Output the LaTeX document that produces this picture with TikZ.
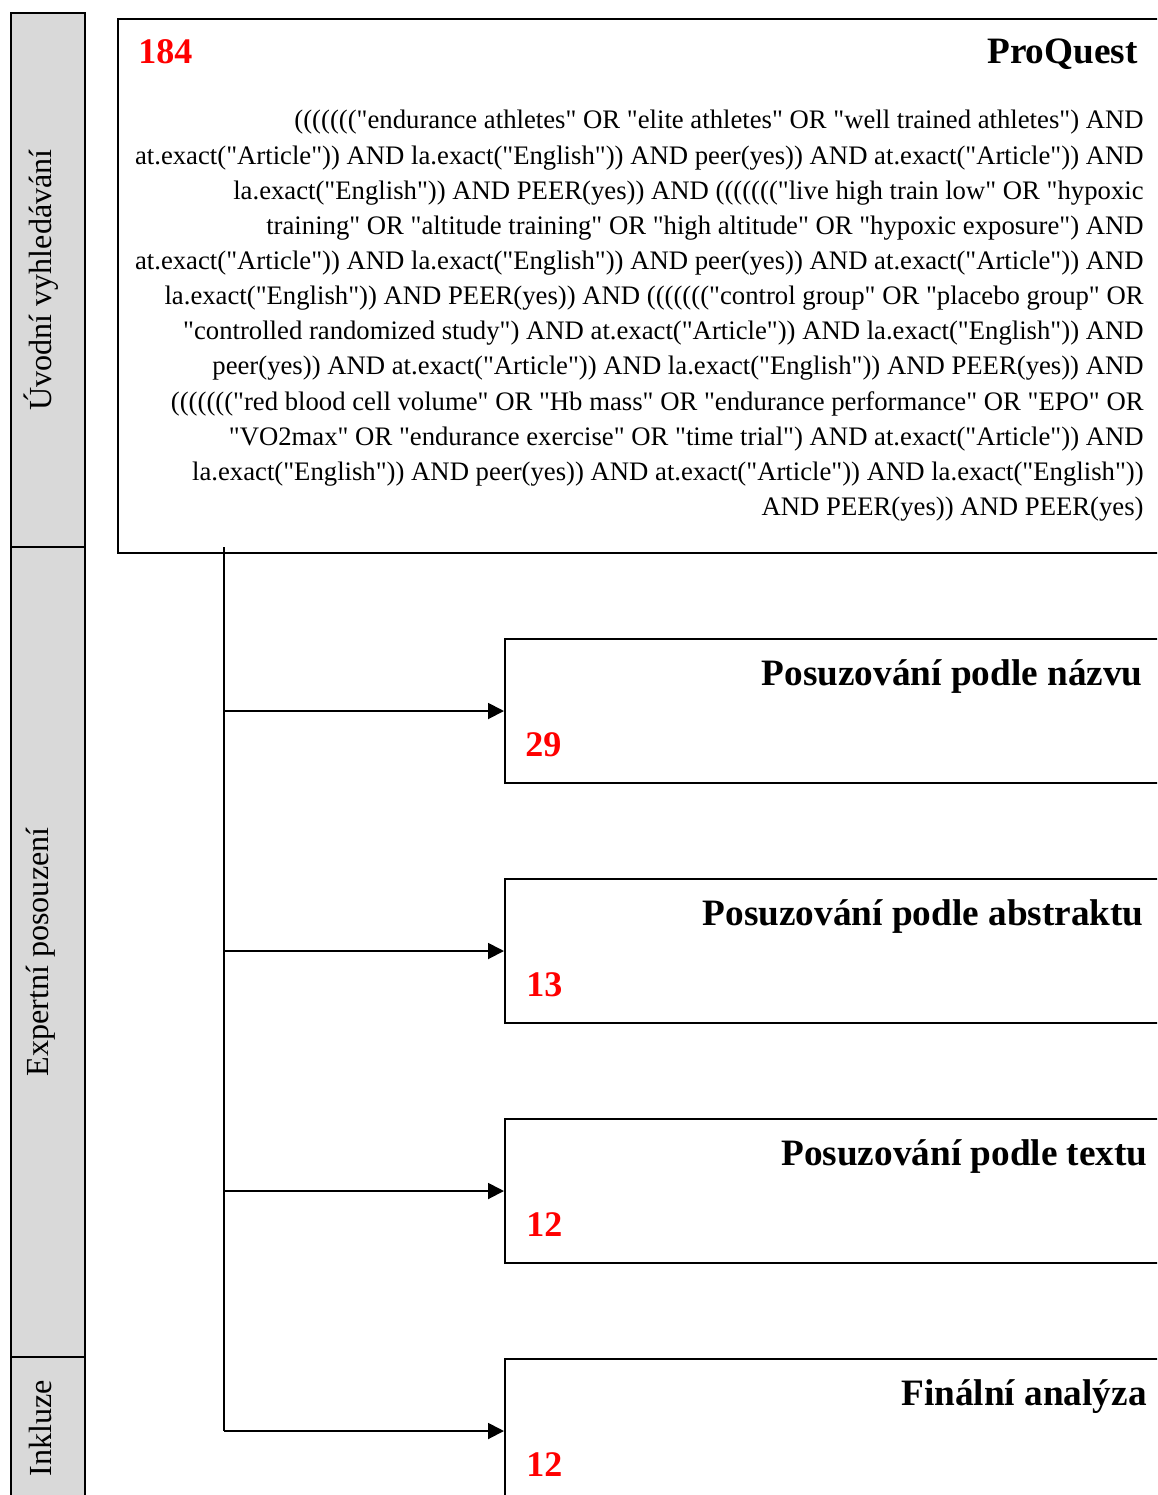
\documentclass[tikz,border=0pt]{standalone}
\usepackage{fontspec}
\setmainfont{Liberation Serif}[Ligatures=TeXOff]
\usetikzlibrary{arrows.meta}

\definecolor{bargray}{RGB}{217,217,217}
\tikzset{
  phasebar/.style={draw, line width=1.1pt, fill=bargray, rotate=90, inner sep=0pt,
    minimum height=1.48cm},
  phaselabel/.style={rotate=90, inner sep=0pt, font=\fontsize{18.3}{22}\selectfont},
  stagebox/.style={draw, line width=1.1pt, inner sep=0pt, anchor=west,
    minimum width=13.5cm, minimum height=2.88cm},
  stagetitle/.style={anchor=base east, inner sep=0pt, font=\bfseries\fontsize{21.2}{25}\selectfont},
  countlabel/.style={anchor=base west, inner sep=0pt, text=red, font=\bfseries\fontsize{20.5}{24}\selectfont},
  flowarrow/.style={line width=1.1pt, -{Triangle[length=0.32cm, width=0.32cm]}}
}

\begin{document}
\begin{tikzpicture}[x=0.02cm, y=-0.02cm]
  \useasboundingbox (0,0) rectangle (1157,1495);
  \clip (0,0) rectangle (1157,1495);

  % phases on the left
  \node[phasebar, minimum width=10.68cm] (uvod) at (48,280) {};
  \node[phasebar, minimum width=16.2cm] (expert) at (48,952) {};
  \node[phasebar, minimum width=2.84cm] (inkluze) at (48,1428) {};
  \node[phaselabel] (luvod) at ([xshift=-0.14cm]uvod.center) {Úvodní vyhledávání};
  \node[phaselabel] (lexpert) at ([xshift=-0.14cm]expert.center) {Expertní posouzení};
  \node[phaselabel] (linkluze) at ([xshift=-0.14cm]inkluze.center) {Inkluze};

  % search box
  \node[draw, line width=1.1pt, inner sep=0pt, anchor=north west,
    minimum width=21.06cm, minimum height=10.68cm] (proquest) at (117,18) {};
  \node[countlabel] (n184) at (138,63) {184};
  \node[stagetitle] (pqname) at (1138,63) {ProQuest};
  \node[anchor=north east, inner sep=0pt, align=right, font=\fontsize{15.2}{20}\selectfont] (query) at (1144,110) {%
    ((((((("endurance athletes" OR "elite athletes" OR "well trained athletes") AND\\
    at.exact("Article")) AND la.exact("English")) AND peer(yes)) AND at.exact("Article")) AND\\
    la.exact("English")) AND PEER(yes)) AND ((((((("live high train low" OR "hypoxic\\
    training" OR "altitude training" OR "high altitude" OR "hypoxic exposure") AND\\
    at.exact("Article")) AND la.exact("English")) AND peer(yes)) AND at.exact("Article")) AND\\
    la.exact("English")) AND PEER(yes)) AND ((((((("control group" OR "placebo group" OR\\
    "controlled randomized study") AND at.exact("Article")) AND la.exact("English")) AND\\
    peer(yes)) AND at.exact("Article")) AND la.exact("English")) AND PEER(yes)) AND\\
    ((((((("red blood cell volume" OR "Hb mass" OR "endurance performance" OR "EPO" OR\\
    "VO2max" OR "endurance exercise" OR "time trial") AND at.exact("Article")) AND\\
    la.exact("English")) AND peer(yes)) AND at.exact("Article")) AND la.exact("English"))\\
    AND PEER(yes)) AND PEER(yes)};

  % assessment stages
  \node[stagebox] (nazev) at (504,711) {};
  \node[stagebox] (abstrakt) at (504,951) {};
  \node[stagebox] (text) at (504,1191) {};
  \node[stagebox] (final) at (504,1431) {};
  \node[stagetitle] (tnazev) at (1143,685) {Posuzování podle názvu};
  \node[stagetitle] (tabstrakt) at (1144,925) {Posuzování podle abstraktu};
  \node[stagetitle] (ttext) at (1148,1165) {Posuzování podle textu};
  \node[stagetitle] (tfinal) at (1147,1405) {Finální analýza};
  \node[countlabel] (cnazev) at (525,756) {29};
  \node[countlabel] (cabstrakt) at (526,996) {13};
  \node[countlabel] (ctext) at (526,1236) {12};
  \node[countlabel] (cfinal) at (526,1476) {12};

  % trunk and arrows
  \coordinate (trunktop) at (224,547);
  \coordinate (trunkend) at (224,1431);
  \draw[line width=1.1pt] (trunktop) -- (trunkend);
  \draw[flowarrow] (nazev.west -| trunktop) -- (nazev.west);
  \draw[flowarrow] (abstrakt.west -| trunktop) -- (abstrakt.west);
  \draw[flowarrow] (text.west -| trunktop) -- (text.west);
  \draw[flowarrow] (trunkend) -- (final.west);
\end{tikzpicture}
\end{document}
